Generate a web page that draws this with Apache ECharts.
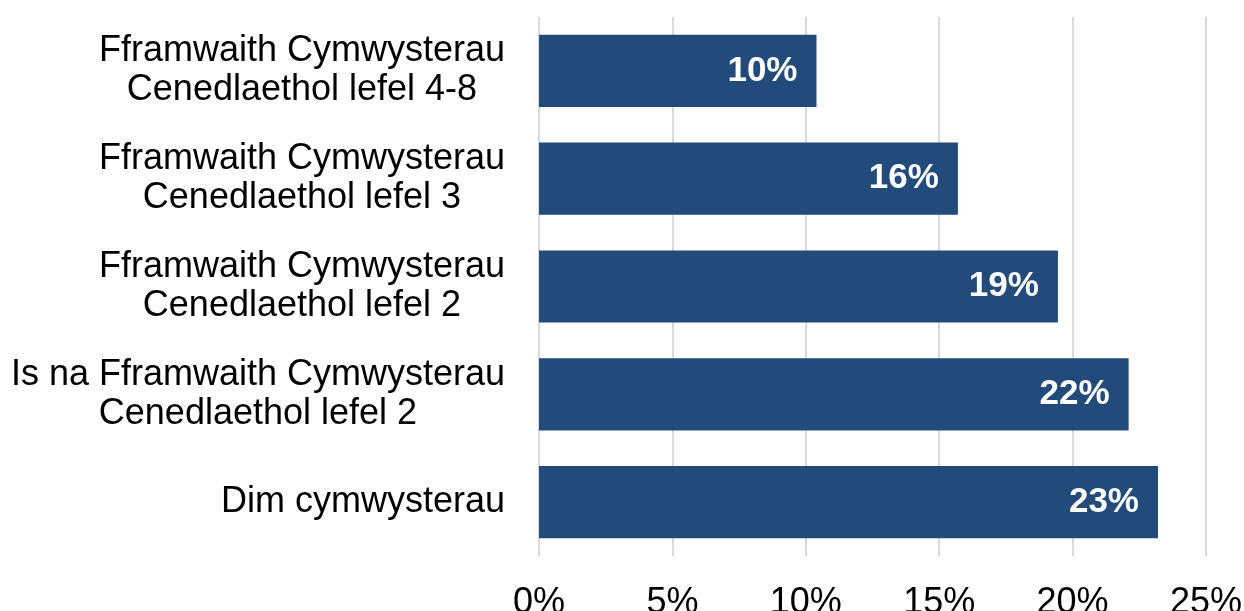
<!DOCTYPE html>
<html>
<head>
<meta charset="utf-8">
<script src="https://cdn.jsdelivr.net/npm/echarts@6/dist/echarts.min.js"></script>
<style>
  html, body { margin: 0; padding: 0; background: #fff; }
  #main { width: 1244px; height: 611px; }
</style>
</head>
<body>
<div id="main"></div>
<script>
var categories = [
  "Fframwaith Cymwysterau\nCenedlaethol lefel 4-8",
  "Fframwaith Cymwysterau\nCenedlaethol lefel 3",
  "Fframwaith Cymwysterau\nCenedlaethol lefel 2",
  "Is na Fframwaith Cymwysterau\nCenedlaethol lefel 2",
  "Dim cymwysterau"
];
var values = [10.4, 15.7, 19.45, 22.1, 23.2];
var xTicks = [0, 5, 10, 15, 20, 25];

var chartDom = document.getElementById("main");
var myChart = echarts.init(chartDom);
var font = "Liberation Sans, Arial, sans-serif";

var option = {
  animation: false,
  grid: {
    left: 539, right: 38, top: 17, bottom: 55,
    containLabel: false,
    outerBoundsMode: "none"
  },
  xAxis: {
    type: "value",
    min: xTicks[0],
    max: xTicks[xTicks.length - 1],
    interval: 5,
    axisLine: { show: false },
    axisTick: { show: false },
    splitLine: { show: true, lineStyle: { color: "#d9d9d9", width: 2 } },
    axisLabel: {
      formatter: "{value}%",
      color: "#000",
      fontFamily: font,
      fontSize: 36,
      margin: 29
    }
  },
  yAxis: {
    type: "category",
    inverse: true,
    data: categories,
    axisLine: { show: false },
    axisTick: { show: false },
    axisLabel: {
      margin: 34,
      color: "#000",
      formatter: function (v) {
        return v.split("\n").map(function (s) { return "{c|" + s + "}"; }).join("\n");
      },
      rich: {
        c: { align: "center", fontFamily: font, fontSize: 36, lineHeight: 39, color: "#000" }
      }
    }
  },
  series: [
    {
      type: "bar",
      data: values,
      barCategoryGap: "33%",
      itemStyle: { color: "#224a7a" },
      label: {
        show: true,
        position: "insideRight",
        distance: 19,
        color: "#fff",
        fontFamily: font,
        fontWeight: "bold",
        fontSize: 35,
        formatter: function (p) { return Math.round(p.value) + "%"; }
      }
    }
  ]
};

option && myChart.setOption(option);
</script>
</body>
</html>
